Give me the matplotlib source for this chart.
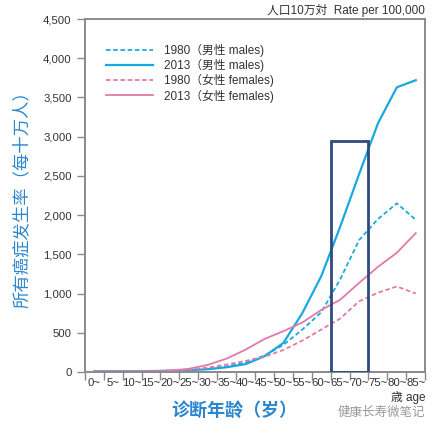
import numpy as np
import matplotlib
matplotlib.use("Agg")
import matplotlib.pyplot as plt
from matplotlib.patches import Rectangle
from matplotlib.ticker import FuncFormatter

plt.rcParams['font.family'] = ['Liberation Sans', 'Noto Sans CJK JP', 'DejaVu Sans']

# 年龄组
ages = ["0~", "5~", "10~", "15~", "20~", "25~", "30~", "35~", "40~", "45~",
        "50~", "55~", "60~", "65~", "70~", "75~", "80~", "85~"]

# 发生率 (每十万人)
male_1980 = [10, 8, 8, 12, 15, 25, 40, 70, 120, 210, 345, 540, 760, 1180, 1680, 1950, 2150, 1940]
male_2013 = [10, 8, 8, 12, 15, 22, 35, 60, 100, 200, 370, 750, 1220, 1850, 2520, 3170, 3630, 3720]
female_1980 = [8, 5, 6, 10, 18, 30, 55, 95, 140, 195, 280, 400, 540, 680, 900, 1010, 1090, 1000]
female_2013 = [8, 5, 6, 10, 18, 40, 90, 170, 285, 420, 520, 630, 790, 920, 1135, 1340, 1520, 1770]

# 标注框: 65~ 到 70~
box_start = 13
box_groups = 2
box_top = 2950

cyan = "#1aa9df"
pink = "#e27aa8"
blue_txt = "#2a86cf"
gray = "#8a8a8a"

x = np.arange(len(ages)) + 0.5

fig = plt.figure(figsize=(4.42, 4.33), dpi=100)
ax = fig.add_axes([0.192, 0.141, 0.770, 0.815])

ax.plot(x, male_1980, color=cyan, lw=1.3, ls=(0, (2.5, 1.5)), label="1980（男性 males)")
ax.plot(x, male_2013, color=cyan, lw=1.6, label="2013（男性 males)")
ax.plot(x, female_1980, color=pink, lw=1.3, ls=(0, (2.5, 1.5)), label="1980（女性 females)")
ax.plot(x, female_2013, color=pink, lw=1.3, label="2013（女性 females)")

ax.add_patch(Rectangle((box_start, 0), box_groups, box_top, fill=False,
                       edgecolor="#2e4b7d", lw=2, zorder=5))

ax.set_xlim(0, len(ages))
ax.set_ylim(0, 4500)
ax.set_yticks(np.arange(0, 4501, 500))
ax.yaxis.set_major_formatter(FuncFormatter(lambda v, p: f"{int(v):,}"))
ax.set_xticks(np.arange(0, len(ages) + 1))
ax.set_xticklabels([])
ax.set_xticks(x, minor=True)
ax.set_xticklabels(ages, minor=True)
ax.tick_params(axis="x", which="major", length=6, width=1, color=gray)
ax.tick_params(axis="x", which="minor", length=0, labelsize=8.2, pad=4, colors="#333333")
ax.tick_params(axis="y", length=6, width=1, color=gray, labelsize=8.2, labelcolor="#333333")

for s in ax.spines.values():
    s.set_color(gray)
    s.set_linewidth(1.4)

ax.legend(loc="upper left", bbox_to_anchor=(0.03, 0.96), frameon=False, fontsize=8.5,
          handlelength=4.0, handletextpad=0.9, labelspacing=0.18, labelcolor="#333333")

ax.set_ylabel("所有癌症发生率（每十万人）", color=blue_txt, fontsize=12.5,
              family=['Noto Sans CJK SC'], labelpad=9)
fig.text(0.53, 0.053, "诊断年龄（岁）", color=blue_txt, fontsize=13, ha="center",
         va="center", family=['Noto Sans CJK SC'], fontweight="bold")

fig.text(0.962, 0.976, "人口10万対  Rate per 100,000", ha="right", va="center",
         fontsize=8.5, color="#333333")
fig.text(0.962, 0.083, "歳 age", ha="right", va="center", fontsize=8.5, color="#333333")
fig.text(0.962, 0.048, "健康长寿微笔记", ha="right", va="center", fontsize=9,
         color="#999999", family=['Noto Sans CJK SC'])

fig.savefig("out.png", dpi=100)
